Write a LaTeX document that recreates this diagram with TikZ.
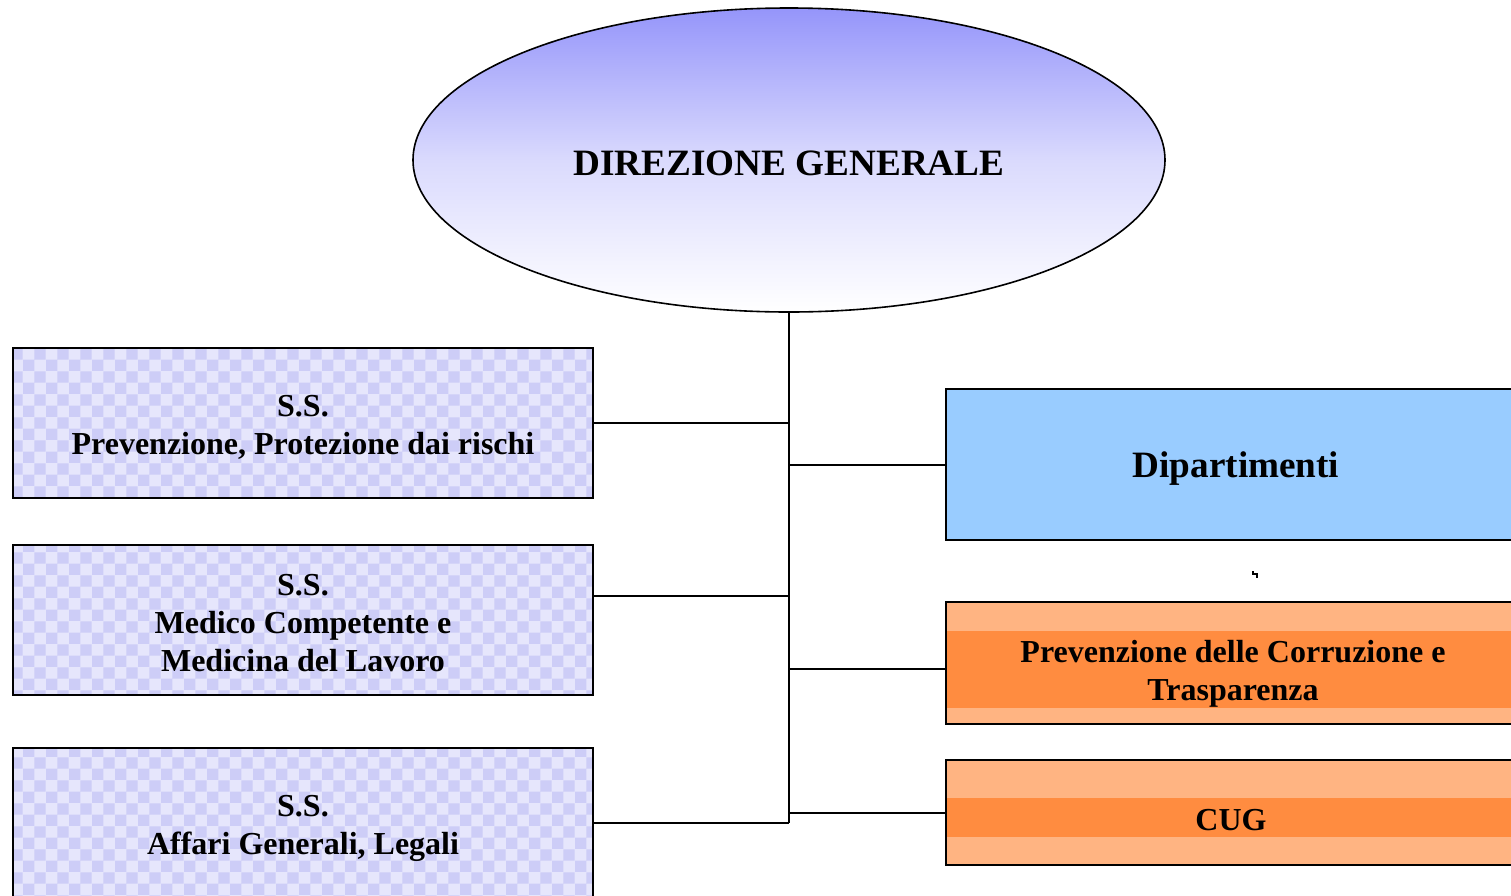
\documentclass[tikz,border=0pt]{standalone}
\usepackage{fontspec}
\setmainfont{Liberation Serif}
\usetikzlibrary{shapes.geometric,patterns}
\definecolor{dgtop}{HTML}{9595FA}
\definecolor{lavfill}{HTML}{E6E6FC}
\definecolor{lavpat}{HTML}{CDCDF7}
\definecolor{dipblue}{HTML}{99CCFF}
\definecolor{orlight}{HTML}{FFB482}
\definecolor{ordark}{HTML}{FF8C40}
\tikzset{
  ssbox/.style={draw=black, line width=1pt, preaction={fill=lavfill}, pattern=checkerboard, pattern color=lavpat,
    minimum width=290pt, minimum height=75pt, inner sep=0pt},
  rbox/.style={draw=black, line width=1pt, minimum width=290pt, inner sep=0pt},
  lbl/.style={font=\bfseries\fontsize{16pt}{19pt}\selectfont, align=center, inner sep=0pt},
  biglbl/.style={font=\bfseries\fontsize{18.6pt}{22pt}\selectfont, align=center, inner sep=0pt},
  conn/.style={line width=1pt, draw=black}
}
\begin{document}
\begin{tikzpicture}[x=0.5pt,y=-0.5pt]
\useasboundingbox (0,0) rectangle (1511,895);
\clip (0,0) rectangle (1511,895);
% top ellipse
\node[ellipse, draw=black, line width=0.8pt, top color=dgtop, bottom color=white, middle color=dgtop!35!white,
      minimum width=376pt, minimum height=152pt, inner sep=0pt] (dg) at (789,160) {};
\node[biglbl] (dgt) at (789,163) {DIREZIONE GENERALE};
% left boxes
\node[ssbox] (b1) at (303,423) {};
\node[lbl] (b1t) at (303,427) {S.S.\\Prevenzione, Protezione dai rischi};
\node[ssbox] (b2) at (303,620) {};
\node[lbl] (b2t) at (303,623) {S.S.\\Medico Competente e\\ Medicina del Lavoro};
\node[ssbox] (b3) at (303,823) {};
\node[lbl] (b3t) at (303,828) {S.S.\\Affari Generali, Legali};
% right boxes
\node[rbox, fill=dipblue, minimum height=75.5pt] (dip) at (1236,464.5) {};
\node[biglbl] (dipt) at (1236,469) {Dipartimenti};
\node[rbox, fill=orlight, minimum height=61pt,
      path picture={\fill[ordark] ([yshift=16pt]path picture bounding box.west) rectangle ([yshift=-22.5pt]path picture bounding box.east);}] (prev) at (1236,663) {};
\node[lbl] (prevt) at (1233,674) {Prevenzione delle Corruzione e\\Trasparenza};
\node[rbox, fill=orlight, minimum height=52.5pt,
      path picture={\fill[ordark] ([yshift=7.25pt]path picture bounding box.west) rectangle ([yshift=-12.25pt]path picture bounding box.east);}] (cug) at (1236,812.5) {};
\node[lbl] (cugt) at (1231,820) {CUG};
% connectors
\coordinate (tb) at (789,823);
\draw[conn] (dg.south) -- (tb);
\draw[conn] (b1.east) -- (b1.east -| dg.south);
\draw[conn] ([yshift=12pt]b2.east) -- ([yshift=12pt]b2.east -| dg.south);
\draw[conn] (b3.east) -- (tb);
\draw[conn] (dip.west -| dg.south) -- (dip.west);
\draw[conn] ([yshift=-3pt]prev.west -| dg.south) -- ([yshift=-3pt]prev.west);
\draw[conn] (cug.west -| dg.south) -- (cug.west);
% small stray mark
\draw[line width=0.6pt] (1253,571) -- (1253,574) -- (1257,574) -- (1257,578);
\end{tikzpicture}
\end{document}
